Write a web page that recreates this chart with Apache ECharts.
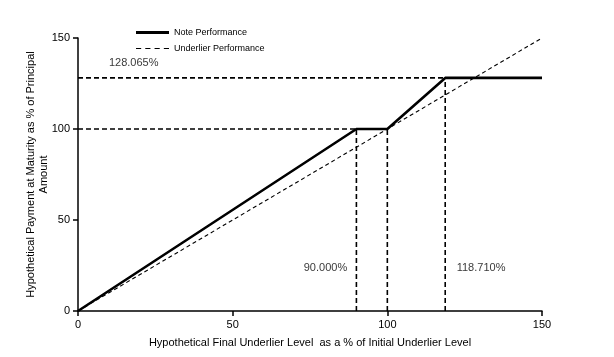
<!DOCTYPE html>
<html><head><meta charset="utf-8">
<script src="https://cdn.jsdelivr.net/npm/echarts@6/dist/echarts.min.js"></script>
<style>html,body{margin:0;padding:0;background:#fff}#c{width:614px;height:357px}</style>
</head><body><div id="c"></div>
<script>
// Data
const noteX = [0, 90, 100, 118.71, 150];
const noteY = [0, 100, 100, 128.065, 128.065];
const underX = [0, 150];
const underY = [0, 150];
const capLevel = 128.065;
const capX = 118.71;
const parLevel = 100;
const bufferX = 90;
const parX = 100;
const xTicks = [0, 50, 100, 150];
const yTicks = [0, 50, 100, 150];
const annotations = [
  {x: 18, y: 136.5, text: '128.065%'},
  {x: 80, y: 23.5, text: '90.000%'},
  {x: 130.3, y: 23.5, text: '118.710%'}
];

const font = 'Liberation Sans, Arial, sans-serif';
const refStyle = {color: '#000', width: 1.6, type: [5, 3]};
const legendText = {fontSize: 9, color: '#000', fontFamily: font};

const chart = echarts.init(document.getElementById('c'));
chart.setOption({
  animation: false,
  textStyle: {fontFamily: font, color: '#000'},
  grid: {left: 78, right: 72, top: 38, bottom: 46},
  legend: [
    {left: 131, top: 23, itemWidth: 33, itemHeight: 3, itemGap: 5,
     textStyle: legendText,
     data: [{name: 'Note Performance', icon: 'path://M0,0h33v3h-33z'}]},
    {left: 131, top: 39, itemWidth: 33, itemHeight: 1.5, itemGap: 5,
     textStyle: legendText,
     data: [{name: 'Underlier Performance',
       icon: 'path://M0,0h5v1h-5z M9,0h5v1h-5z M18,0h5v1h-5z M27,0h5v1h-5z'}]}
  ],
  xAxis: {
    type: 'value', min: 0, max: 150, interval: 50,
    name: 'Hypothetical Final Underlier Level  as a % of Initial Underlier Level',
    nameLocation: 'middle', nameGap: 26,
    nameTextStyle: {fontSize: 11, color: '#000'},
    axisLine: {lineStyle: {color: '#000', width: 1.5}},
    axisTick: {length: 5, lineStyle: {color: '#000', width: 1.5}},
    axisLabel: {fontSize: 11, color: '#000', margin: 8},
    splitLine: {show: false}
  },
  yAxis: {
    type: 'value', min: 0, max: 150, interval: 50,
    name: 'Hypothetical Payment at Maturity as % of Principal\nAmount',
    nameLocation: 'middle', nameGap: 28, nameMoveOverlap: false,
    nameTextStyle: {fontSize: 11, color: '#000', lineHeight: 13},
    axisLine: {show: true, lineStyle: {color: '#000', width: 1.5}},
    axisTick: {show: true, length: 5, lineStyle: {color: '#000', width: 1.5}},
    axisLabel: {fontSize: 11, color: '#000', margin: 8},
    splitLine: {show: false}
  },
  series: [
    {name: 'Underlier Performance', type: 'line', symbol: 'none', z: 2,
     lineStyle: {color: '#000', width: 1.1, type: [4, 3]},
     itemStyle: {color: '#000'},
     data: underX.map((x, i) => [x, underY[i]])},
    {name: 'cap-h', type: 'line', symbol: 'none', lineStyle: refStyle, z: 1,
     data: [[0, capLevel], [capX, capLevel]]},
    {name: 'par-h', type: 'line', symbol: 'none', lineStyle: refStyle, z: 1,
     data: [[0, parLevel], [bufferX, parLevel]]},
    {name: 'v1', type: 'line', symbol: 'none', lineStyle: refStyle, z: 1,
     data: [[bufferX, 0], [bufferX, parLevel]]},
    {name: 'v2', type: 'line', symbol: 'none', lineStyle: refStyle, z: 1,
     data: [[parX, 0], [parX, parLevel]]},
    {name: 'v3', type: 'line', symbol: 'none', lineStyle: refStyle, z: 1,
     data: [[capX, 0], [capX, capLevel]]},
    {name: 'Note Performance', type: 'line', symbol: 'none', z: 3,
     lineStyle: {color: '#000', width: 2.6},
     itemStyle: {color: '#000'},
     data: noteX.map((x, i) => [x, noteY[i]])},
    {name: 'ann', type: 'scatter', symbolSize: 0, z: 4,
     label: {show: true, position: 'inside', fontSize: 11, color: '#000', fontFamily: font,
       formatter: p => p.data.text},
     data: annotations.map(a => ({value: [a.x, a.y], text: a.text}))}
  ]
});
</script>
</body></html>
